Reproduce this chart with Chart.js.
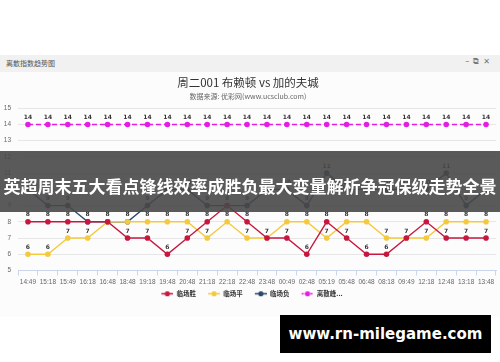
<!DOCTYPE html>
<html>
<head>
<meta charset="utf-8">
<script src="https://cdn.jsdelivr.net/npm/chart.js@4.4.1/dist/chart.umd.min.js"></script>
<style>
  body { margin: 0; width: 500px; height: 362px; background: #fff; position: relative; overflow: hidden; font-family: "Noto Sans CJK SC", sans-serif; }
  #panel { position: absolute; left: 0; top: 55px; width: 500px; height: 262px; background: #fcfcfc; }
  #bar { position: absolute; left: 0; top: 0; width: 500px; height: 17px; background: #f1f1f1; }
  #bar .name { position: absolute; left: 6px; top: 3px; font-size: 7px; color: #555; }
  #bar .icons { position: absolute; right: 6px; top: 2px; font-size: 8px; color: #777; letter-spacing: 4px; font-family: "DejaVu Sans", sans-serif; }
  #wrap { position: absolute; left: 0; top: 73px; }
  #banner { position: absolute; left: 0; top: 151px; width: 500px; height: 61px; background: rgba(72,72,72,0.9); color: #fff; font-weight: bold; font-size: 17px; text-align: center; line-height: 61px; padding-top: 4px; box-sizing: border-box; white-space: nowrap; }
  #site { position: absolute; left: 280px; top: 315px; width: 211px; height: 38px; background: #000; color: #fff; font-family: "DejaVu Sans", sans-serif; font-weight: bold; font-size: 15px; line-height: 38px; text-align: center; }
</style>
</head>
<body>
<div id="panel">
  <div id="bar"><span class="name">离散指数趋势图</span><span class="icons">–⧉✕</span></div>
</div>
<div id="wrap"><canvas id="chart" width="500" height="234"></canvas></div>
<div id="banner">英超周末五大看点锋线效率成胜负最大变量解析争冠保级走势全景</div>
<div id="site">www.rn-milegame.com</div>
<script>
const times = ["14:49", "15:18", "15:49", "16:18", "16:48", "18:48", "19:18", "19:48", "20:48", "21:18", "22:18", "22:48",
    "23:48", "00:49", "02:48", "05:19", "05:48", "06:48", "08:18", "09:49", "12:18", "12:48", "13:18", "13:48"];
const winVals  = [8, 8, 8, 8, 8, 7, 7, 6, 7, 8, 9, 8, 7, 7, 6, 8, 7, 6, 6, 7, 8, 7, 7, 7];
const drawVals = [6, 6, 7, 7, 8, 8, 8, 8, 8, 7, 8, 7, 7, 8, 8, 7, 8, 8, 7, 7, 7, 8, 8, 8];
const loseVals = [10, 9, 9, 8, 8, 8, 9, 10, 10, 9, 9, 9, 10, 10, 9, 11, 10, 10, 10, 10, 10, 11, 9, 10];
const peakVals = [14, 14, 14, 14, 14, 14, 14, 14, 14, 14, 14, 14, 14, 14, 14, 14, 14, 14, 14, 14, 14, 14, 14, 14];
const seriesNames = ["临场胜", "临场平", "临场负", "离散峰..."];
const seriesColors = ["#c8173f", "#f5c93e", "#2b4767", "#e41de4"];

// legend symbol: short line with a dot, drawn at the right of a 20px box
function legendIcon(color, dashed) {
    const c = document.createElement("canvas");
    c.width = 20; c.height = 7;
    const g = c.getContext("2d");
    g.strokeStyle = color;
    g.lineWidth = 1.5;
    if (dashed) g.setLineDash([2, 1]);
    g.beginPath(); g.moveTo(8, 3.5); g.lineTo(20, 3.5); g.stroke();
    g.fillStyle = color;
    g.beginPath(); g.arc(14, 3.5, 2.6, 0, Math.PI * 2); g.fill();
    return c;
}

const valueLabels = {
    id: "valueLabels",
    afterDatasetsDraw(chart) {
        const ctx = chart.ctx;
        ctx.save();
        ctx.font = "bold 6px 'DejaVu Sans', sans-serif";
        ctx.textAlign = "center";
        ctx.textBaseline = "bottom";
        chart.data.datasets.forEach(function (ds, i) {
            chart.getDatasetMeta(i).data.forEach(function (pt, j) {
                ctx.lineWidth = 2;
                ctx.strokeStyle = "rgba(255,255,255,0.9)";
                ctx.strokeText(ds.data[j], pt.x, pt.y - 4);
                ctx.fillStyle = "#333";
                ctx.fillText(ds.data[j], pt.x, pt.y - 4);
            });
        });
        ctx.restore();
    }
};

function makeSet(k, vals, dashed) {
    return {
        label: seriesNames[k],
        data: vals,
        borderColor: seriesColors[k],
        backgroundColor: seriesColors[k],
        borderWidth: 1.4,
        borderDash: dashed ? [5, 3] : [],
        pointRadius: 2.8,
        pointHoverRadius: 2.8,
        pointBorderWidth: 0,
        tension: 0,
        pointStyle: "circle",
        legendIcon: legendIcon(seriesColors[k], dashed)
    };
}

new Chart(document.getElementById("chart"), {
    type: "line",
    data: {
        labels: times,
        datasets: [
            makeSet(0, winVals),
            makeSet(1, drawVals),
            makeSet(2, loseVals),
            makeSet(3, peakVals, true)
        ]
    },
    options: {
        responsive: false,
        animation: false,
        devicePixelRatio: 1,
        layout: { padding: { left: 0, right: 4, top: 0, bottom: 0 } },
        plugins: {
            title: {
                display: true,
                text: "周二001 布赖顿 vs 加的夫城",
                color: "#333",
                font: { size: 11.5, weight: "normal", family: "'Noto Sans CJK SC'" },
                padding: { top: 3, bottom: 2 }
            },
            subtitle: {
                display: true,
                text: "数据来源: 优彩网(www.ucsclub.com)",
                color: "#666",
                font: { size: 7, family: "'Noto Sans CJK SC'" },
                padding: { top: 0, bottom: 8 }
            },
            legend: {
                position: "bottom",
                labels: {
                    usePointStyle: true,
                    pointStyleWidth: 20,
                    padding: 4,
                    color: "#333",
                    font: { size: 6.5, weight: "bold", family: "'Noto Sans CJK SC'" },
                    generateLabels(chart) {
                        return chart.data.datasets.map(function (ds, i) {
                            return {
                                text: ds.label,
                                pointStyle: ds.legendIcon,
                                fillStyle: ds.borderColor,
                                strokeStyle: ds.borderColor,
                                lineWidth: 0,
                                datasetIndex: i,
                                fontColor: "#333"
                            };
                        });
                    }
                }
            },
            tooltip: { enabled: false }
        },
        scales: {
            x: {
                offset: true,
                afterFit(scale) { scale.height = 16; },
                grid: { display: true, drawOnChartArea: false, drawTicks: true, tickLength: 5, color: "#ccd6eb", offset: true },
                border: { display: true, color: "#ccd6eb" },
                ticks: { color: "#666", font: { size: 6.5, family: "'Liberation Sans'" }, maxRotation: 0, autoSkip: false, padding: 3 }
            },
            y: {
                min: 5,
                max: 15,
                afterFit(scale) { scale.width = 18; },
                grid: { color: "#e6e6e6", drawTicks: false },
                border: { display: false },
                ticks: { stepSize: 1, color: "#666", padding: 7, font: { size: 6.5, family: "'Liberation Sans'" } }
            }
        }
    },
    plugins: [valueLabels]
});
</script>
</body>
</html>
